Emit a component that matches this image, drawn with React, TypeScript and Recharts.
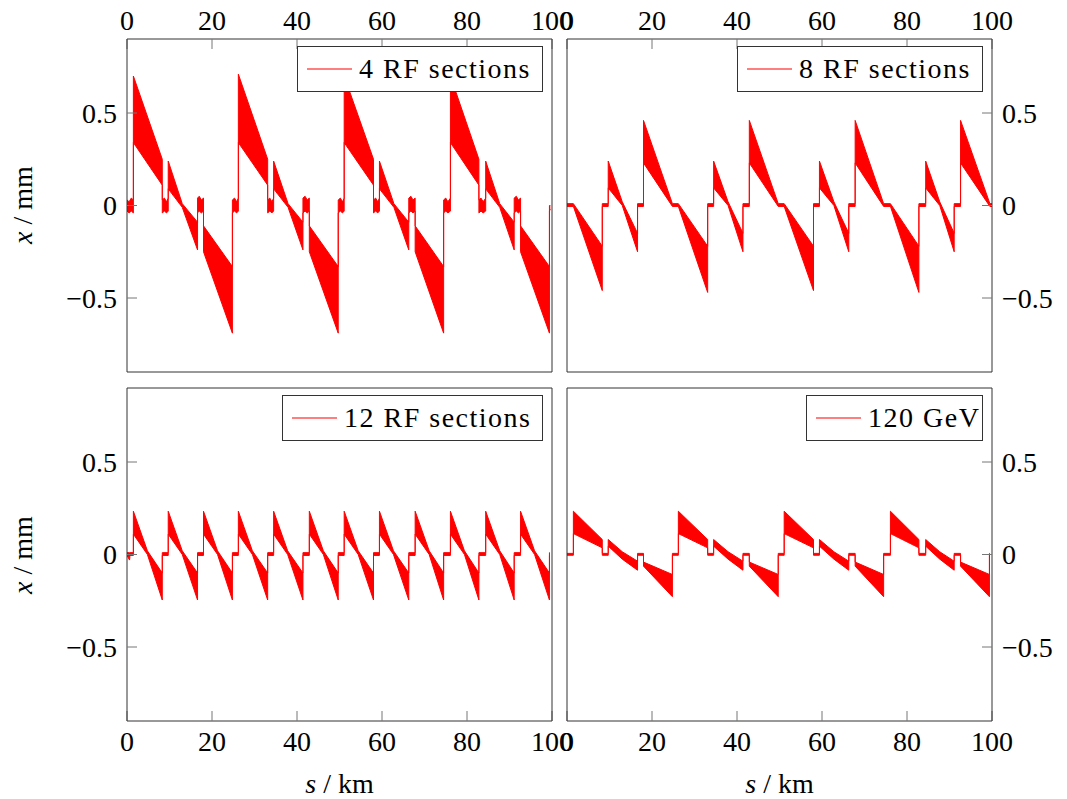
import React from 'react';
import { AreaChart, Area, XAxis, YAxis, Legend } from 'recharts';

const FONT = '"Liberation Serif", "DejaVu Serif", serif';

const X_TICKS = [0, 20, 40, 60, 80, 100];
const Y_TICKS = [-0.5, 0, 0.5];

// ---------- 4 RF sections ----------
const S_4RF = [
  0, 0.5, 1.0, 1.5, 1.5, 8.3, 8.3, 8.8, 9.3, 9.7, 9.7, 13.0, 16.6, 16.6, 17.0, 17.5, 18.0, 18.0, 24.8,
  24.8, 25.3, 25.8, 26.2, 26.2, 33.1, 33.1, 33.6, 34.1, 34.5, 34.5, 37.9, 41.4, 41.4, 41.9, 42.4, 42.9, 42.9, 49.7,
  49.7, 50.2, 50.7, 51.1, 51.1, 58.0, 58.0, 58.5, 59.0, 59.4, 59.4, 62.8, 66.3, 66.3, 66.8, 67.3, 67.8, 67.8, 74.5,
  74.5, 75.0, 75.5, 76.1, 76.1, 82.8, 82.8, 83.3, 83.8, 84.4, 84.4, 87.7, 91.1, 91.1, 91.6, 92.1, 92.6, 92.6, 99.4,
  99.4, 99.6,
];
const LO_4RF = [
  -0.03, -0.04, -0.03, -0.04, 0.34, 0.11, -0.04, -0.03, -0.04, -0.03, 0.09, -0.01, -0.24, -0.04, -0.03, -0.04, -0.03, -0.25, -0.69,
  -0.04, -0.03, -0.04, -0.03, 0.34, 0.11, -0.04, -0.03, -0.04, -0.03, 0.09, -0.01, -0.24, -0.04, -0.03, -0.04, -0.03, -0.25, -0.69,
  -0.04, -0.03, -0.04, -0.03, 0.34, 0.11, -0.04, -0.03, -0.04, -0.03, 0.09, -0.01, -0.24, -0.04, -0.03, -0.04, -0.03, -0.25, -0.69,
  -0.04, -0.03, -0.04, -0.03, 0.34, 0.11, -0.04, -0.03, -0.04, -0.03, 0.09, -0.01, -0.24, -0.04, -0.03, -0.04, -0.03, -0.25, -0.69,
  -0.03, -0.02,
];
const HI_4RF = [
  0.03, 0.02, 0.04, 0.03, 0.70, 0.25, 0.03, 0.04, 0.02, 0.04, 0.24, 0.01, -0.09, 0.04, 0.05, 0.03, 0.04, -0.11, -0.33,
  0.03, 0.04, 0.02, 0.04, 0.71, 0.25, 0.03, 0.04, 0.02, 0.04, 0.24, 0.01, -0.09, 0.04, 0.05, 0.03, 0.04, -0.11, -0.33,
  0.03, 0.04, 0.02, 0.04, 0.70, 0.25, 0.03, 0.04, 0.02, 0.04, 0.24, 0.01, -0.09, 0.04, 0.05, 0.03, 0.04, -0.11, -0.33,
  0.03, 0.04, 0.02, 0.04, 0.70, 0.25, 0.03, 0.04, 0.02, 0.04, 0.24, 0.01, -0.09, 0.04, 0.05, 0.03, 0.04, -0.11, -0.33,
  0.0, 0.0,
];

// ---------- 8 RF sections ----------
const S_8RF = [
  0, 1.5, 1.5, 8.3, 8.3, 9.7, 9.7, 13.0, 16.6, 16.6, 18.0, 18.0, 24.8,
  24.8, 26.2, 26.2, 33.1, 33.1, 34.5, 34.5, 37.9, 41.4, 41.4, 42.9, 42.9, 49.7,
  49.7, 51.1, 51.1, 58.0, 58.0, 59.4, 59.4, 62.8, 66.3, 66.3, 67.8, 67.8, 74.5,
  74.5, 76.1, 76.1, 82.8, 82.8, 84.4, 84.4, 87.7, 91.1, 91.1, 92.6, 92.6, 99.5,
  99.5, 100,
];
const LO_8RF = [
  -0.005, -0.005, -0.005, -0.46, -0.005, -0.005, 0.095, 0.0, -0.25, -0.005, -0.005, 0.23, -0.005,
  -0.005, -0.005, -0.005, -0.47, -0.005, -0.005, 0.095, 0.0, -0.25, -0.005, -0.005, 0.23, -0.005,
  -0.005, -0.005, -0.005, -0.46, -0.005, -0.005, 0.095, 0.0, -0.25, -0.005, -0.005, 0.23, -0.005,
  -0.005, -0.005, -0.005, -0.47, -0.005, -0.005, 0.095, 0.0, -0.25, -0.005, -0.005, 0.23, -0.005,
  -0.005, -0.005,
];
const HI_8RF = [
  0.01, 0.01, 0.01, -0.22, 0.01, 0.01, 0.24, 0.02, -0.15, 0.01, 0.01, 0.46, 0.01,
  0.01, 0.01, 0.01, -0.22, 0.01, 0.01, 0.24, 0.02, -0.15, 0.01, 0.01, 0.46, 0.01,
  0.01, 0.01, 0.01, -0.22, 0.01, 0.01, 0.24, 0.02, -0.15, 0.01, 0.01, 0.46, 0.01,
  0.01, 0.01, 0.01, -0.22, 0.01, 0.01, 0.24, 0.02, -0.15, 0.01, 0.01, 0.46, 0.01,
  0.01, 0.01,
];

// ---------- 12 RF sections ----------
const S_12RF = [
  0, 0.6, 0.7, 1.5,
  1.5, 4.8, 8.3, 8.3, 9.7,
  9.7, 13.0, 16.6, 16.6, 18.0,
  18.0, 21.3, 24.8, 24.8, 26.2,
  26.2, 29.5, 33.1, 33.1, 34.5,
  34.5, 37.8, 41.4, 41.4, 42.9,
  42.9, 46.2, 49.7, 49.7, 51.1,
  51.1, 54.4, 58.0, 58.0, 59.4,
  59.4, 62.7, 66.3, 66.3, 67.8,
  67.8, 71.1, 74.5, 74.5, 76.1,
  76.1, 79.4, 82.8, 82.8, 84.4,
  84.4, 87.7, 91.1, 91.1, 92.6,
  92.6, 95.9, 99.4, 99.4, 99.5,
];
const LO_12RF = [
  -0.005, -0.03, -0.005, -0.005,
  0.11, 0.0, -0.246, -0.005, -0.005,
  0.11, 0.0, -0.246, -0.005, -0.005,
  0.11, 0.0, -0.246, -0.005, -0.005,
  0.11, 0.0, -0.246, -0.005, -0.005,
  0.11, 0.0, -0.246, -0.005, -0.005,
  0.11, 0.0, -0.246, -0.005, -0.005,
  0.11, 0.0, -0.246, -0.005, -0.005,
  0.11, 0.0, -0.246, -0.005, -0.005,
  0.11, 0.0, -0.246, -0.005, -0.005,
  0.11, 0.0, -0.246, -0.005, -0.005,
  0.11, 0.0, -0.246, -0.005, -0.005,
  0.11, 0.0, -0.246, -0.005, -0.005,
];
const HI_12RF = [
  0.01, 0.01, 0.01, 0.01,
  0.234, 0.02, -0.10, 0.01, 0.01,
  0.234, 0.02, -0.10, 0.01, 0.01,
  0.234, 0.02, -0.10, 0.01, 0.01,
  0.234, 0.02, -0.10, 0.01, 0.01,
  0.234, 0.02, -0.10, 0.01, 0.01,
  0.234, 0.02, -0.10, 0.01, 0.01,
  0.234, 0.02, -0.10, 0.01, 0.01,
  0.234, 0.02, -0.10, 0.01, 0.01,
  0.234, 0.02, -0.10, 0.01, 0.01,
  0.234, 0.02, -0.10, 0.01, 0.01,
  0.234, 0.02, -0.10, 0.01, 0.01,
  0.234, 0.02, -0.10, 0.01, 0.01,
];

// ---------- 120 GeV ----------
const S_120 = [
  0, 1.5, 1.5, 8.3, 8.3, 9.7, 9.7, 13.0, 16.6, 16.6, 18.0, 18.0, 24.8,
  24.8, 26.2, 26.2, 33.1, 33.1, 34.5, 34.5, 37.9, 41.4, 41.4, 42.9, 42.9, 49.7,
  49.7, 51.1, 51.1, 58.0, 58.0, 59.4, 59.4, 62.8, 66.3, 66.3, 67.8, 67.8, 74.5,
  74.5, 76.1, 76.1, 82.8, 82.8, 84.4, 84.4, 87.7, 91.1, 91.1, 92.6, 92.6, 99.4,
  99.4, 99.5,
];
const LO_120 = [
  -0.004, -0.004, 0.113, 0.036, -0.004, -0.004, 0.045, -0.025, -0.085, -0.004, -0.004, -0.063, -0.228,
  -0.004, -0.004, 0.113, 0.036, -0.004, -0.004, 0.045, -0.025, -0.085, -0.004, -0.004, -0.063, -0.228,
  -0.004, -0.004, 0.113, 0.036, -0.004, -0.004, 0.045, -0.025, -0.085, -0.004, -0.004, -0.063, -0.228,
  -0.004, -0.004, 0.113, 0.036, -0.004, -0.004, 0.045, -0.025, -0.085, -0.004, -0.004, -0.063, -0.228,
  -0.004, -0.004,
];
const HI_120 = [
  0.006, 0.006, 0.234, 0.081, 0.006, 0.006, 0.081, 0.015, -0.036, 0.006, 0.006, -0.041, -0.108,
  0.006, 0.006, 0.234, 0.081, 0.006, 0.006, 0.081, 0.015, -0.036, 0.006, 0.006, -0.041, -0.108,
  0.006, 0.006, 0.234, 0.081, 0.006, 0.006, 0.081, 0.015, -0.036, 0.006, 0.006, -0.041, -0.108,
  0.006, 0.006, 0.234, 0.081, 0.006, 0.006, 0.081, 0.015, -0.036, 0.006, 0.006, -0.041, -0.108,
  0.006, 0.006,
];

const build = (s: number[], lo: number[], hi: number[]) =>
  s.map((v, i) => ({ s: v, band: [lo[i], hi[i]] as [number, number] }));

const W = 1067;
const H = 799;
const PW = 425;
const PH = 333;

const fmtY = (v: number) => (v < 0 ? '\u2212' + String(Math.abs(v)) : String(v));

function LegendBox(props: any) {
  const entry = props.payload && props.payload[0];
  return (
    <div
      style={{
        boxSizing: 'border-box',
        width: '100%',
        height: '100%',
        border: '1px solid #333',
        background: '#fff',
        display: 'flex',
        alignItems: 'center',
        paddingLeft: 9,
        fontFamily: FONT,
        fontSize: 28,
        lineHeight: '28px',
        color: '#000',
        whiteSpace: 'nowrap',
        letterSpacing: 1.5,
      }}
    >
      <svg width={45} height={4} style={{ display: 'block', marginRight: 7, flex: 'none' }}>
        <line x1={0} y1={2} x2={45} y2={2} stroke="#ff0000" strokeWidth={1.2} />
      </svg>
      <span>{entry ? entry.value : ''}</span>
    </div>
  );
}

type PanelProps = {
  data: { s: number; band: [number, number] }[];
  name: string;
  plotLeft: number;
  plotTop: number;
  xSide: 'top' | 'bottom';
  ySide: 'left' | 'right';
  legend: { left: number; top: number; width: number; height: number };
};

function Panel({ data, name, plotLeft, plotTop, xSide, ySide, legend }: PanelProps) {
  const xLabH = xSide === 'top' ? 30 : 40;
  const yLabW = ySide === 'left' ? 100 : 70;
  const margin = {
    top: xSide === 'top' ? plotTop - xLabH : plotTop,
    bottom: xSide === 'top' ? H - plotTop - PH : H - plotTop - PH - xLabH,
    left: ySide === 'left' ? plotLeft - yLabW : plotLeft,
    right: ySide === 'left' ? W - plotLeft - PW : W - plotLeft - PW - yLabW,
  };
  const tickStyle = { fontSize: 28, fontFamily: FONT, fill: '#000' };
  const tickLine = { stroke: '#777' };
  const axisLine = { stroke: '#333' };
  return (
    <div style={{ position: 'absolute', left: 0, top: 0 }}>
      <AreaChart width={W} height={H} data={data} margin={margin}>
        <XAxis
          xAxisId="xl"
          type="number"
          dataKey="s"
          domain={[0, 100]}
          ticks={X_TICKS}
          interval={0}
          allowDataOverflow
          orientation={xSide}
          height={xLabH}
          tickSize={-10}
          tickMargin={xSide === 'top' ? 19 : 20}
          tick={tickStyle}
          tickLine={tickLine}
          axisLine={axisLine}
        />
        <XAxis
          xAxisId="xu"
          type="number"
          domain={[0, 100]}
          ticks={X_TICKS}
          interval={0}
          allowDataOverflow
          mirror
          orientation={xSide === 'top' ? 'bottom' : 'top'}
          height={30}
          tickSize={10}
          tick={false}
          tickLine={tickLine}
          axisLine={axisLine}
        />
        <YAxis
          yAxisId="yl"
          type="number"
          domain={[-0.9, 0.9]}
          ticks={Y_TICKS}
          interval={0}
          allowDataOverflow
          orientation={ySide}
          width={yLabW}
          tickSize={-10}
          tickMargin={20}
          tick={tickStyle}
          tickFormatter={fmtY}
          tickLine={tickLine}
          axisLine={axisLine}
        />
        <YAxis
          yAxisId="yu"
          type="number"
          domain={[-0.9, 0.9]}
          ticks={Y_TICKS}
          interval={0}
          allowDataOverflow
          mirror
          orientation={ySide === 'left' ? 'right' : 'left'}
          width={30}
          tickSize={10}
          tick={false}
          tickLine={tickLine}
          axisLine={axisLine}
        />
        <Area
          xAxisId="xl"
          yAxisId="yl"
          type="linear"
          dataKey="band"
          name={name}
          stroke="#ff0000"
          strokeWidth={1}
          fill="#ff0000"
          fillOpacity={1}
          dot={false}
          activeDot={false}
          isAnimationActive={false}
        />
        <Legend
          verticalAlign="middle"
          align="center"
          layout="horizontal"
          wrapperStyle={{
            left: legend.left,
            top: legend.top,
            width: legend.width,
            height: legend.height,
            right: 'auto',
            bottom: 'auto',
          }}
          content={(p: any) => <LegendBox payload={p.payload} />}
        />
      </AreaChart>
    </div>
  );
}

export default function App() {
  return (
    <div style={{ position: 'absolute', left: 0, top: 0, width: W, height: H, background: '#fff' }}>
      <svg width={W} height={H} style={{ position: 'absolute', left: 0, top: 0 }}>
        <text x={32} y={205} transform="rotate(-90 32 205)" textAnchor="middle" fontSize={28} fontFamily={FONT} fill="#000">
          <tspan fontStyle="italic">x</tspan> / mm
        </text>
        <text x={32} y={555} transform="rotate(-90 32 555)" textAnchor="middle" fontSize={28} fontFamily={FONT} fill="#000">
          <tspan fontStyle="italic">x</tspan> / mm
        </text>
        <text x={339.5} y={793} textAnchor="middle" fontSize={28} fontFamily={FONT} fill="#000">
          <tspan fontStyle="italic">s</tspan> / km
        </text>
        <text x={779.5} y={793} textAnchor="middle" fontSize={28} fontFamily={FONT} fill="#000">
          <tspan fontStyle="italic">s</tspan> / km
        </text>
      </svg>
      <Panel
        data={build(S_4RF, LO_4RF, HI_4RF)}
        name="4 RF sections"
        plotLeft={127}
        plotTop={39}
        xSide="top"
        ySide="left"
        legend={{ left: 297, top: 46, width: 246, height: 46 }}
      />
      <Panel
        data={build(S_8RF, LO_8RF, HI_8RF)}
        name="8 RF sections"
        plotLeft={567}
        plotTop={39}
        xSide="top"
        ySide="right"
        legend={{ left: 737, top: 46, width: 246, height: 46 }}
      />
      <Panel
        data={build(S_12RF, LO_12RF, HI_12RF)}
        name="12 RF sections"
        plotLeft={127}
        plotTop={388}
        xSide="bottom"
        ySide="left"
        legend={{ left: 282, top: 395, width: 261, height: 46 }}
      />
      <Panel
        data={build(S_120, LO_120, HI_120)}
        name="120 GeV"
        plotLeft={567}
        plotTop={388}
        xSide="bottom"
        ySide="right"
        legend={{ left: 806, top: 395, width: 177, height: 46 }}
      />
    </div>
  );
}
